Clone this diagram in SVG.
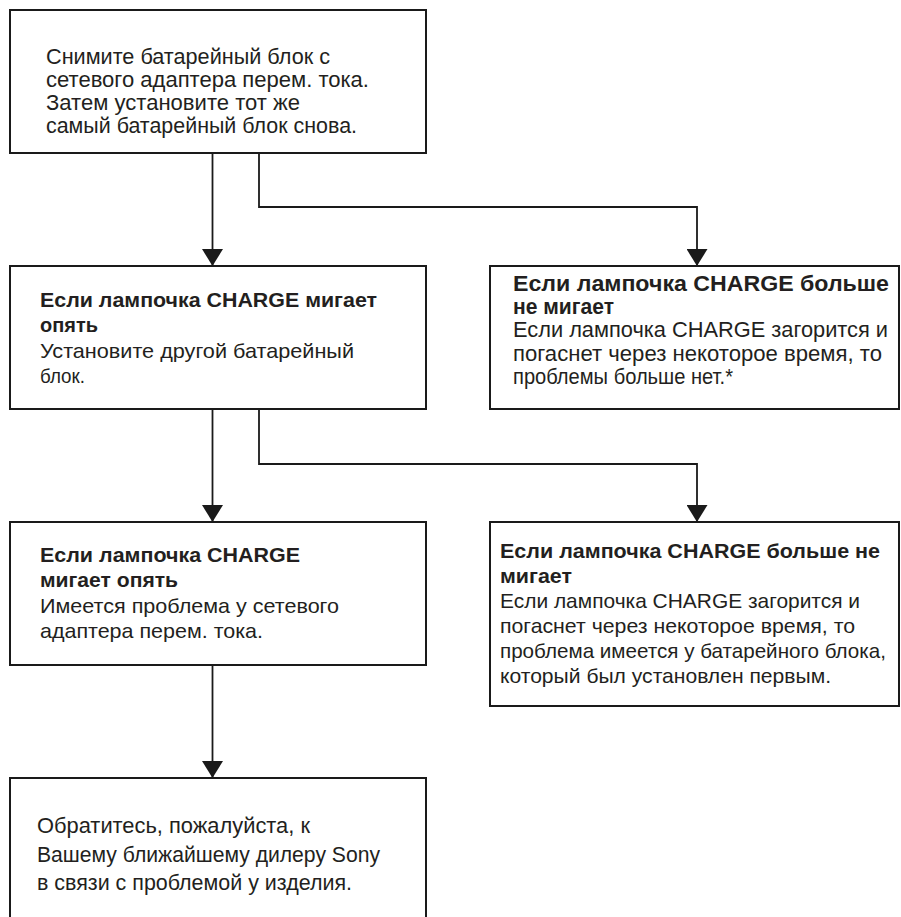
<svg xmlns="http://www.w3.org/2000/svg" width="901" height="917" viewBox="0 0 901 917">
<defs>
<style>
.box{fill:#fff;stroke:#1a1a1a;stroke-width:2}
.con{fill:none;stroke:#1a1a1a;stroke-width:1.8}
text{font-family:"Liberation Sans",Arial,sans-serif;font-size:22px;fill:#231f20}
.n text{font-size:21px}
.b{font-weight:bold}
</style>
<marker id="ah" markerUnits="userSpaceOnUse" markerWidth="17" markerHeight="21" viewBox="0 0 17 21" refX="17" refY="10.5" orient="auto">
<path d="M0,0 L17,10.5 L0,21 z" fill="#1a1a1a"/>
</marker>
</defs>
<rect width="901" height="917" fill="#fff"/>
<g id="connectors">
<path class="con" d="M212.5,153 V266" marker-end="url(#ah)"/>
<path class="con" d="M259,153 V207 H697 V266" marker-end="url(#ah)"/>
<path class="con" d="M212.5,409 V522" marker-end="url(#ah)"/>
<path class="con" d="M259,409 V464 H697 V522" marker-end="url(#ah)"/>
<path class="con" d="M212.5,665 V778" marker-end="url(#ah)"/>
</g>
<g id="node1">
<rect class="box" x="10" y="10" width="416" height="143"/>
<text x="46" y="64" textLength="284" lengthAdjust="spacingAndGlyphs">Снимите батарейный блок с</text>
<text x="46" y="87" textLength="323" lengthAdjust="spacingAndGlyphs">сетевого адаптера перем. тока.</text>
<text x="46" y="110" textLength="254" lengthAdjust="spacingAndGlyphs">Затем установите тот же</text>
<text x="46" y="133" textLength="311" lengthAdjust="spacingAndGlyphs">самый батарейный блок снова.</text>
</g>
<g id="node2" class="n">
<rect class="box" x="10" y="266" width="416" height="143"/>
<text class="b" x="40" y="307" textLength="337" lengthAdjust="spacingAndGlyphs">Если лампочка CHARGE мигает</text>
<text class="b" x="40" y="332" textLength="58" lengthAdjust="spacingAndGlyphs">опять</text>
<text x="40" y="357.5" textLength="314" lengthAdjust="spacingAndGlyphs">Установите другой батарейный</text>
<text x="40" y="383" textLength="45" lengthAdjust="spacingAndGlyphs">блок.</text>
</g>
<g id="node3">
<rect class="box" x="490" y="266" width="409" height="143"/>
<text class="b" x="513" y="291" textLength="376" lengthAdjust="spacingAndGlyphs">Если лампочка CHARGE больше</text>
<text class="b" x="513" y="314" textLength="101" lengthAdjust="spacingAndGlyphs">не мигает</text>
<text x="513" y="337.3" textLength="375" lengthAdjust="spacingAndGlyphs">Если лампочка CHARGE загорится и</text>
<text x="513" y="360.5" textLength="369" lengthAdjust="spacingAndGlyphs">погаснет через некоторое время, то</text>
<text x="513" y="383.5" textLength="220" lengthAdjust="spacingAndGlyphs">проблемы больше нет.*</text>
</g>
<g id="node4" class="n">
<rect class="box" x="10" y="522" width="416" height="143"/>
<text class="b" x="40" y="562" textLength="260" lengthAdjust="spacingAndGlyphs">Если лампочка CHARGE</text>
<text class="b" x="40" y="587" textLength="138" lengthAdjust="spacingAndGlyphs">мигает опять</text>
<text x="40" y="612.5" textLength="299" lengthAdjust="spacingAndGlyphs">Имеется проблема у сетевого</text>
<text x="40" y="638" textLength="223" lengthAdjust="spacingAndGlyphs">адаптера перем. тока.</text>
</g>
<g id="node5" class="n">
<rect class="box" x="490" y="522" width="409" height="184"/>
<text class="b" x="500" y="558" textLength="380" lengthAdjust="spacingAndGlyphs">Если лампочка CHARGE больше не</text>
<text class="b" x="500" y="583" textLength="72" lengthAdjust="spacingAndGlyphs">мигает</text>
<text x="500" y="608" textLength="360" lengthAdjust="spacingAndGlyphs">Если лампочка CHARGE загорится и</text>
<text x="500" y="633" textLength="355" lengthAdjust="spacingAndGlyphs">погаснет через некоторое время, то</text>
<text x="500" y="658" textLength="386" lengthAdjust="spacingAndGlyphs">проблема имеется у батарейного блока,</text>
<text x="500" y="683" textLength="331" lengthAdjust="spacingAndGlyphs">который был установлен первым.</text>
</g>
<g id="node6">
<rect class="box" x="10" y="778" width="416" height="160"/>
<text x="37" y="833" textLength="273" lengthAdjust="spacingAndGlyphs">Обратитесь, пожалуйста, к</text>
<text x="37" y="862" textLength="343" lengthAdjust="spacingAndGlyphs">Вашему ближайшему дилеру Sony</text>
<text x="37" y="890" textLength="315" lengthAdjust="spacingAndGlyphs">в связи с проблемой у изделия.</text>
</g>
</svg>
